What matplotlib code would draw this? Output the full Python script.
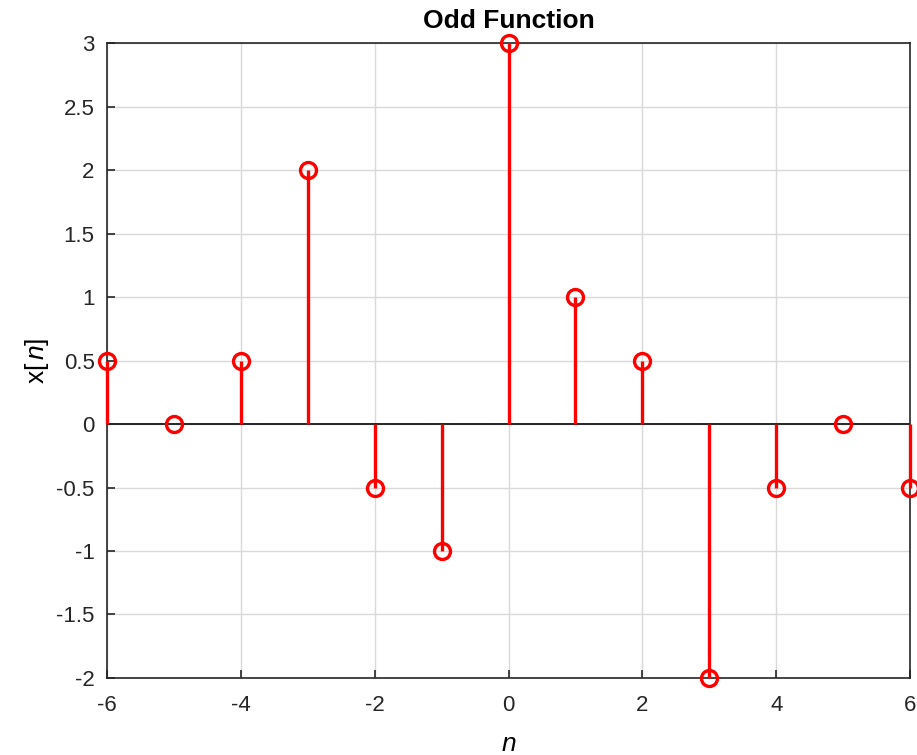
import numpy as np
import matplotlib
matplotlib.use("Agg")
import matplotlib.pyplot as plt

plt.rcParams["font.family"] = ["Liberation Sans", "DejaVu Sans"]
plt.rcParams["mathtext.fontset"] = "custom"
plt.rcParams["mathtext.rm"] = "Liberation Sans"
plt.rcParams["mathtext.it"] = "Liberation Sans:italic"

# ---- data ----
n = [-6, -5, -4, -3, -2, -1, 0, 1, 2, 3, 4, 5, 6]
x_n = [0.5, 0, 0.5, 2, -0.5, -1, 3, 1, 0.5, -2, -0.5, 0, -0.5]
xticks = [-6, -4, -2, 0, 2, 4, 6]
yticks = [-2, -1.5, -1, -0.5, 0, 0.5, 1, 1.5, 2, 2.5, 3]

fig = plt.figure(figsize=(9.17, 7.55), dpi=100)
ax = fig.add_axes([0.1167, 0.102, 0.8757, 0.841])

ax.vlines(n, 0, x_n, color="red", linewidth=2.4, zorder=5, clip_on=False)
ax.plot(n, x_n, "o", markerfacecolor="none", markeredgecolor="red",
        markersize=11.5, markeredgewidth=2.4, zorder=6, clip_on=False)
ax.axhline(0, color="#262626", linewidth=1.4, zorder=2)

ax.set_xlim(-6, 6)
ax.set_ylim(-2, 3)
ax.set_xticks(xticks)
ax.set_yticks(yticks)
ax.set_xticklabels([str(t) for t in xticks])
ax.set_yticklabels([f"{t:g}" for t in yticks])
ax.grid(True, color="#d9d9d9", linewidth=1.0, zorder=0)
ax.set_axisbelow(True)

ax.tick_params(axis="both", which="major", direction="in", length=6, width=1.2,
               colors="#262626", labelsize=16)
ax.tick_params(axis="y", pad=9)
ax.tick_params(axis="x", pad=12)
for s in ax.spines.values():
    s.set_color("#262626")
    s.set_linewidth(1.2)

ax.set_title("Odd Function", fontsize=19, fontweight="bold", pad=11)
ax.set_xlabel(r"$\mathit{n}$", fontsize=19, labelpad=12)
ax.set_ylabel(r"$\mathrm{x}[\,\mathit{n}]$", fontsize=19, labelpad=4)

fig.savefig("out.png", dpi=100)
